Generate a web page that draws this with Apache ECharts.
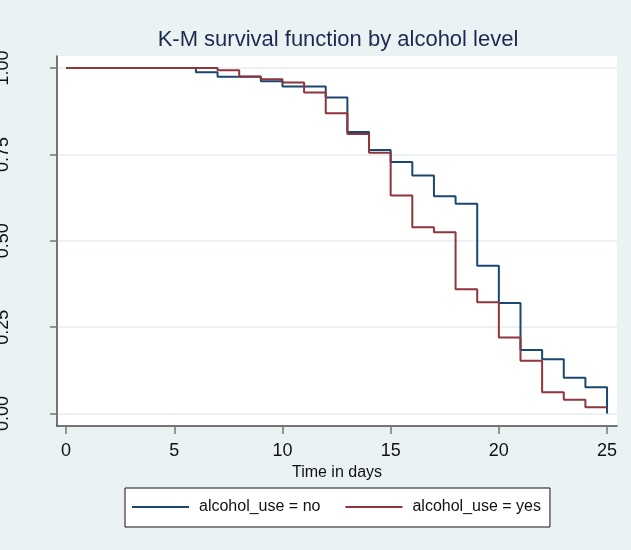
<!DOCTYPE html>
<html>
<head>
<meta charset="utf-8">
<script src="https://cdn.jsdelivr.net/npm/echarts@6/dist/echarts.min.js"></script>
<style>
  html, body { margin: 0; padding: 0; background: #eaf2f3; }
  #chart { width: 631px; height: 550px; }
</style>
</head>
<body>
<div id="chart"></div>
<script>
// Kaplan-Meier estimates, one value per event day (value holds until the next day)
const days = [0, 6, 7, 8, 9, 10, 11, 12, 13, 14, 15, 16, 17, 18, 19, 20, 21, 22, 23, 24, 25];
const survivalNo = [1.000, 0.988, 0.975, 0.975, 0.962, 0.947, 0.947, 0.915, 0.815, 0.763, 0.728,
                    0.689, 0.629, 0.607, 0.428, 0.320, 0.184, 0.157, 0.104, 0.076, 0.000];
const survivalYes = [1.000, 1.000, 0.994, 0.976, 0.968, 0.958, 0.929, 0.869, 0.809, 0.755, 0.631,
                     0.539, 0.525, 0.360, 0.322, 0.220, 0.153, 0.062, 0.040, 0.018, 0.018];
const groupNames = ['alcohol_use = no', 'alcohol_use = yes'];
const xTicks = [0, 5, 10, 15, 20, 25];
const yTicks = [0, 0.25, 0.5, 0.75, 1];

const FONT = "'Liberation Sans', Arial, sans-serif";
const pairs = (xs, ys) => xs.map((x, i) => [x, ys[i]]);

const chart = echarts.init(document.getElementById('chart'), null, { renderer: 'canvas' });

chart.setOption({
  backgroundColor: '#eaf2f3',
  animation: false,
  title: {
    text: 'K-M survival function by alcohol level',
    left: 338,
    top: 29,
    textAlign: 'center',
    padding: 0,
    textStyle: { fontFamily: FONT, fontSize: 22, fontWeight: 'normal', color: '#1c2a4f' }
  },
  grid: {
    left: 57, right: 14, top: 56, bottom: 124,
    show: true, backgroundColor: '#ffffff', borderWidth: 0,
    containLabel: false, outerBoundsMode: 'none'
  },
  xAxis: {
    type: 'value',
    min: -0.42, max: 25.46,
    name: 'Time in days',
    nameLocation: 'middle',
    nameGap: 33,
    nameTextStyle: { fontFamily: FONT, fontSize: 16, color: '#111' },
    axisLine: { show: true, onZero: false, lineStyle: { color: '#4a4a4a', width: 1.5 } },
    axisTick: { show: true, length: 8, customValues: xTicks, lineStyle: { color: '#777', width: 1.5 } },
    axisLabel: { customValues: xTicks, margin: 16, fontFamily: FONT, fontSize: 18, color: '#111' },
    splitLine: { show: false }
  },
  yAxis: {
    type: 'value',
    min: -0.036, max: 1.035,
    axisLine: { show: true, onZero: false, lineStyle: { color: '#4a4a4a', width: 1.5 } },
    axisTick: { show: true, length: 7, customValues: yTicks, lineStyle: { color: '#777', width: 1.5 } },
    axisLabel: {
      customValues: yTicks, rotate: 90, margin: 45,
      fontFamily: FONT, fontSize: 18, color: '#111',
      formatter: v => v.toFixed(2)
    },
    splitLine: { show: true, lineStyle: { color: '#e6eef1', width: 1.5 } }
  },
  legend: {
    left: 125, top: 488,
    padding: [11, 9, 12, 7],
    backgroundColor: '#ffffff',
    borderColor: '#111', borderWidth: 1,
    itemWidth: 57, itemHeight: 2, itemGap: 25,
    icon: 'rect',
    textStyle: { fontFamily: FONT, fontSize: 16, color: '#111', padding: [0, 0, 0, 5] },
    data: groupNames
  },
  series: [
    {
      name: groupNames[0],
      type: 'line',
      step: 'end',
      symbol: 'none',
      data: pairs(days, survivalNo),
      color: '#1a476f',
      lineStyle: { color: '#1a476f', width: 2 }
    },
    {
      name: groupNames[1],
      type: 'line',
      step: 'end',
      symbol: 'none',
      data: pairs(days, survivalYes),
      color: '#90353b',
      lineStyle: { color: '#90353b', width: 2 }
    }
  ]
});
</script>
</body>
</html>
